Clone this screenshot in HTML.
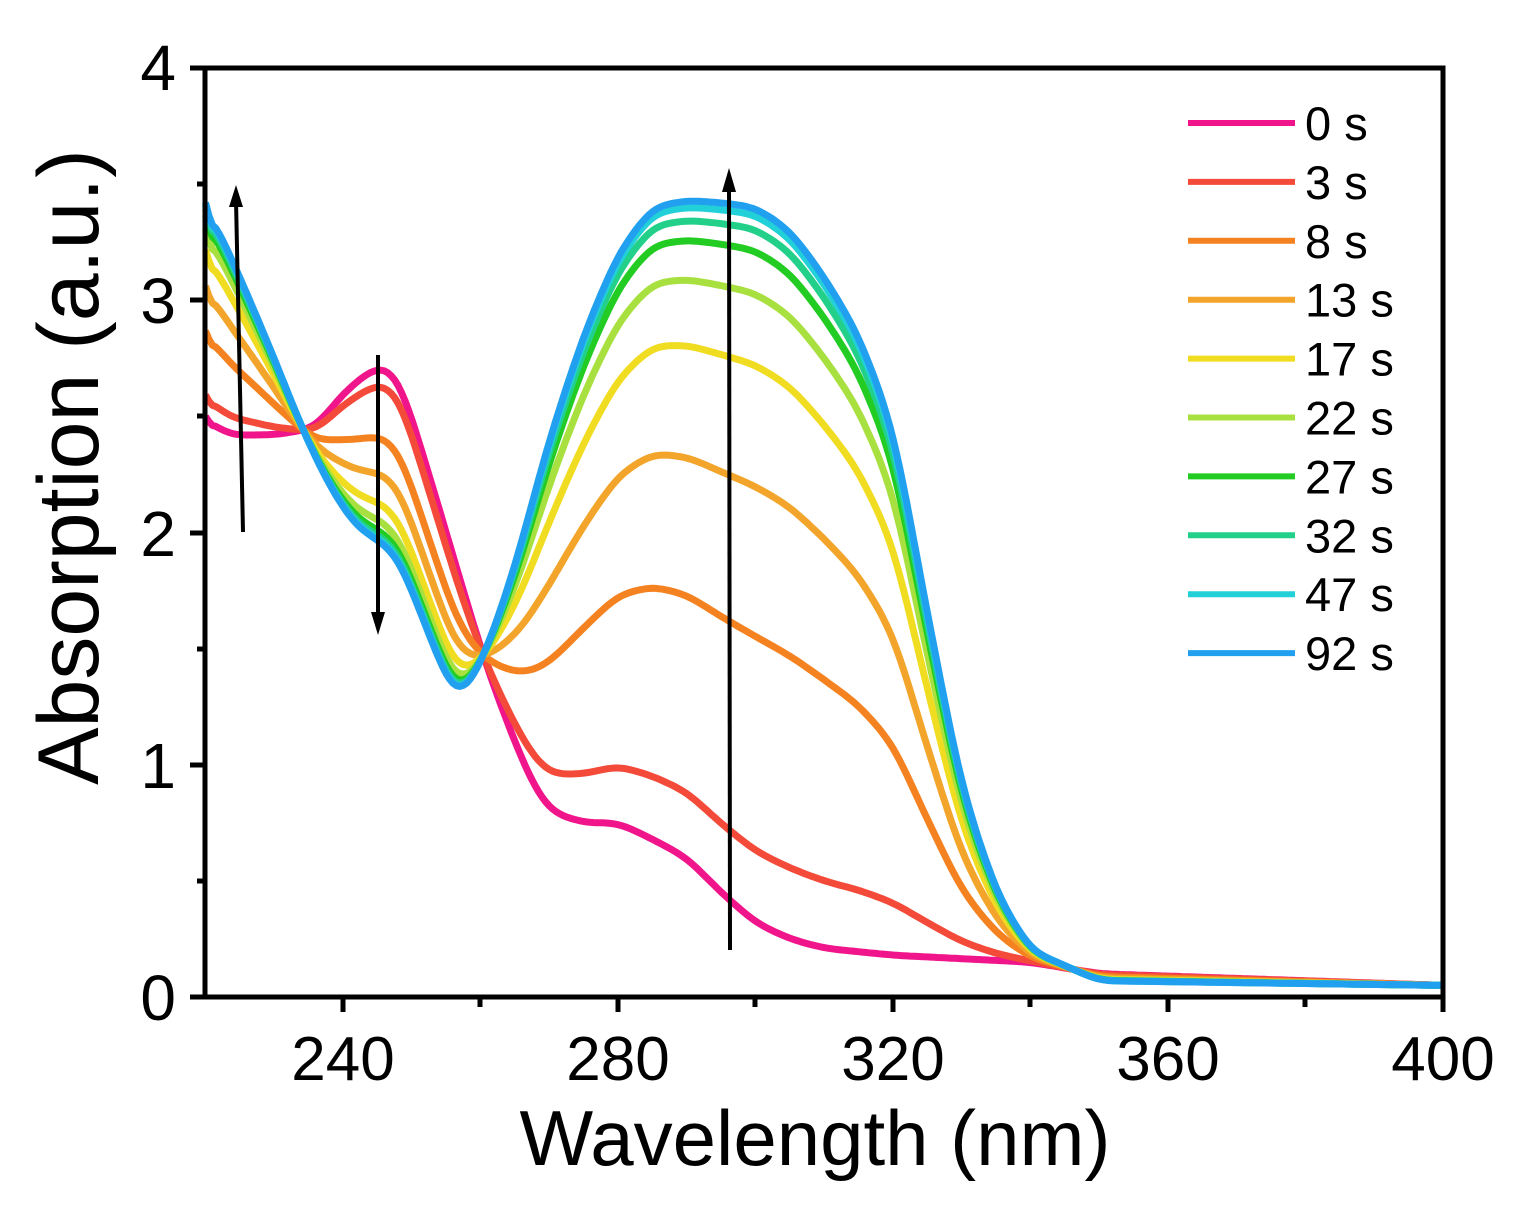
<!DOCTYPE html><html><head><style>body{margin:0;background:#fff}svg{display:block}text{font-family:"Liberation Sans",sans-serif;fill:#000}</style></head><body>
<svg id="s" width="1528" height="1206" viewBox="0 0 1528 1206">
<g id="curves" fill="none" stroke-width="7" stroke-linejoin="round"></g>
<g stroke="#000" stroke-width="5" fill="none">
<rect x="205" y="68" width="1238" height="929"/>
<path d="M190 997H205M190 765H205M190 533H205M190 300H205M190 68H205M197 881H205M197 649H205M197 416H205M197 184H205"/>
<path d="M343 997V1012M618 997V1012M893 997V1012M1168 997V1012M1443 997V1012M480 997V1007M755 997V1007M1030 997V1007M1305 997V1007"/>
</g>
<g stroke="#000" stroke-width="4">
<line x1="243" y1="532" x2="236" y2="200"/><line x1="378" y1="355" x2="378" y2="620"/><line x1="730" y1="950" x2="729" y2="185"/>
</g>
<g fill="#000"><path d="M229 207L236 185L243 207Z"/><path d="M371 612L378 635L385 612Z"/><path d="M722 192L729 168L736 192Z"/></g>
<g font-size="64" text-anchor="end"><text x="176" y="1020">0</text><text x="176" y="788">1</text><text x="176" y="556">2</text><text x="176" y="323">3</text><text x="176" y="90">4</text></g>
<g font-size="62" text-anchor="middle"><text x="343" y="1080">240</text><text x="618" y="1080">280</text><text x="893" y="1080">320</text><text x="1168" y="1080">360</text><text x="1443" y="1080">400</text></g>
<text x="815" y="1165" font-size="78" text-anchor="middle">Wavelength (nm)</text>
<text transform="translate(98,467) rotate(-90)" font-size="86" text-anchor="middle">Absorption (a.u.)</text>
<g id="leg" font-size="47"></g>
</svg>
<script>
var p0=[[220,2.5],[223,2.42],[230,2.42],[236,2.45],[240,2.6],[245,2.72],[248,2.68],[252,2.3],[256,1.9],[260,1.5],[263,1.25],[267,0.95],[270,0.8],[275,0.75],[280,0.75],[285,0.68],[290,0.6],[295,0.45],[300,0.32],[305,0.25],[310,0.21],[320,0.18],[340,0.15],[350,0.1],[400,0.05]];
var p1=[[220,3.42],[225,3.1],[230,2.75],[234,2.45],[238,2.2],[242,2.02],[245,1.97],[248,1.9],[252,1.6],[256,1.3],[258,1.32],[261,1.5],[265,1.85],[270,2.4],[275,2.85],[280,3.2],[285,3.4],[290,3.43],[295,3.42],[300,3.4],[305,3.3],[310,3.1],[315,2.85],[320,2.45],[325,1.65],[330,0.9],[335,0.45],[340,0.2],[350,0.07],[400,0.05]];
function ip(p,x){for(var i=0;i<p.length-1;i++){if(x<=p[i+1][0]){var t=(x-p[i][0])/(p[i+1][0]-p[i][0]);return p[i][1]+(p[i+1][1]-p[i][1])*t;}}return p[p.length-1][1];}
var F=[0,0.1,0.4,0.61,0.78,0.88,0.94,0.97,0.99,1];
var C=["#f0158a","#f44a3a","#f58220","#f2a52a","#f0dc20","#a8e040","#22cc22","#22d08a","#22d0d8","#22a0f0"];
var L=["0 s","3 s","8 s","13 s","17 s","22 s","27 s","32 s","47 s","92 s"];
var g=document.getElementById("curves"),lg=document.getElementById("leg"),ns="http://www.w3.org/2000/svg";
for(var k=0;k<10;k++){var xs=[],ys=[];for(var x=220;x<=400;x+=0.5){xs.push(x);ys.push(ip(p0,x)*(1-F[k])+ip(p1,x)*F[k]);}
var y0=ys[0];
for(var pass=0;pass<2;pass++){var n=[];for(var i=0;i<ys.length;i++){var s=0,c=0;for(var j=-3;j<=3;j++){if(ys[i+j]!==undefined){s+=ys[i+j];c++;}}n.push(s/c);}ys=n;}
ys[0]=y0;ys[1]=(ys[1]*2+y0)/3;
var d="";for(var i=0;i<xs.length;i++){d+=(i?"L":"M")+(205.5+(xs[i]-220)*6.875).toFixed(1)+" "+(997-ys[i]*232.25).toFixed(1);}
var e=document.createElementNS(ns,"path");e.setAttribute("d",d);e.setAttribute("stroke",C[k]);g.appendChild(e);
var yy=123+k*58.9;var l=document.createElementNS(ns,"line");l.setAttribute("x1",1188);l.setAttribute("x2",1295);l.setAttribute("y1",yy);l.setAttribute("y2",yy);l.setAttribute("stroke",C[k]);l.setAttribute("stroke-width",6);lg.appendChild(l);
var t=document.createElementNS(ns,"text");t.setAttribute("x",1305);t.setAttribute("y",yy+17);t.textContent=L[k];lg.appendChild(t);}
</script>
</body></html>
